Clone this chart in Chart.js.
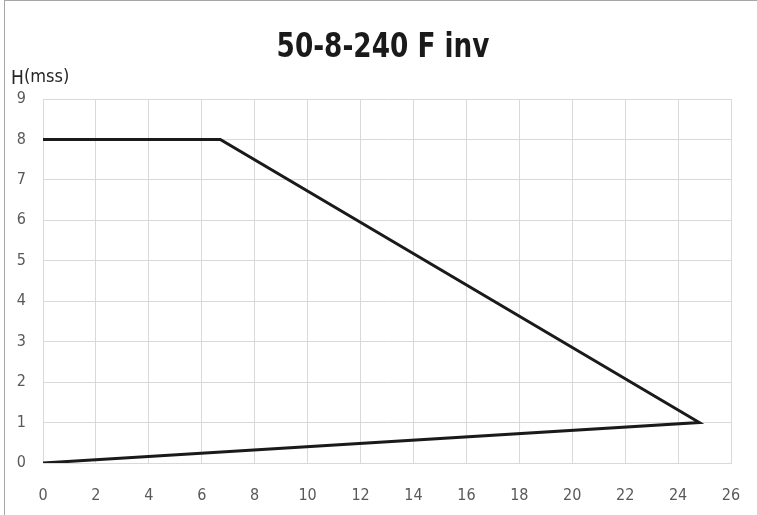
<!DOCTYPE html>
<html>
<head>
<meta charset="utf-8">
<script src="https://cdn.jsdelivr.net/npm/chart.js@4"></script>
<style>
  html, body { margin: 0; padding: 0; background: #fff; }
  #wrap { position: absolute; left: 0; top: 0; width: 757px; height: 515px; }
  #frame { position: absolute; left: 4px; top: 0; width: 760px; height: 520px;
           border-top: 1px solid #a6a6a6; border-left: 1px solid #a6a6a6; box-sizing: border-box; }
</style>
</head>
<body>
<div id="wrap">
  <canvas id="chartCurva" width="757" height="515"></canvas>
  <div id="frame"></div>
</div>
<script>
// curva Q-H (punto de trabajo)
const caudal = [0, 6.7, 24.8, 0];
const altura = [8, 8, 1, 0];
const xTicks = [0, 2, 4, 6, 8, 10, 12, 14, 16, 18, 20, 22, 24, 26];
const yTicks = [0, 1, 2, 3, 4, 5, 6, 7, 8, 9];

const titulo = '50-8-240 F inv';
const fuente = "'Liberation Sans Narrow', 'DejaVu Sans Condensed', sans-serif";

const puntos = caudal.map((q, i) => ({ x: q, y: altura[i] }));

const textos = {
    id: 'textos',
    afterDraw(chart) {
        const c = chart.ctx;
        c.save();
        c.fillStyle = '#1a1a1a';
        c.textAlign = 'center';
        c.textBaseline = 'alphabetic';
        c.font = 'bold 34px ' + fuente;
        c.translate(383, 57);
        c.scale(0.86, 1);
        c.fillText(titulo, 0, 0);
        c.restore();

        c.save();
        c.textAlign = 'left';
        c.fillStyle = '#262626';
        c.font = '19px ' + fuente;
        c.fillText('H', 11, 84);
        c.font = '18px ' + fuente;
        c.fillText('(mss)', 24, 82);
        c.restore();
    }
};

new Chart(document.getElementById('chartCurva'), {
    type: 'line',
    data: {
        datasets: [{
            data: puntos,
            borderColor: '#1a1a1a',
            borderWidth: 3,
            pointRadius: 0,
            tension: 0,
            fill: false
        }]
    },
    options: {
        responsive: false,
        animation: false,
        layout: { padding: { top: 99, right: 26, left: 0, bottom: 0 } },
        plugins: { legend: { display: false }, title: { display: false }, tooltip: { enabled: false } },
        scales: {
            x: {
                type: 'linear',
                min: 0, max: 26,
                afterBuildTicks: s => { s.ticks = xTicks.map(v => ({ value: v })); },
                afterFit: s => { s.height = 52; s.paddingLeft = 0; s.paddingRight = 0; },
                grid: { color: '#d9d9d9', lineWidth: 1, drawTicks: false },
                border: { color: '#d9d9d9' },
                ticks: { color: '#595959', font: { family: fuente, size: 16 }, padding: 23, maxRotation: 0 }
            },
            y: {
                min: 0, max: 9,
                afterBuildTicks: s => { s.ticks = yTicks.map(v => ({ value: v })); },
                afterFit: s => { s.width = 43; s.paddingTop = 0; s.paddingBottom = 0; },
                grid: { color: '#d9d9d9', lineWidth: 1, drawTicks: false },
                border: { color: '#d9d9d9' },
                ticks: { color: '#595959', font: { family: fuente, size: 16 }, padding: 17 }
            }
        }
    },
    plugins: [textos]
});
</script>
</body>
</html>
